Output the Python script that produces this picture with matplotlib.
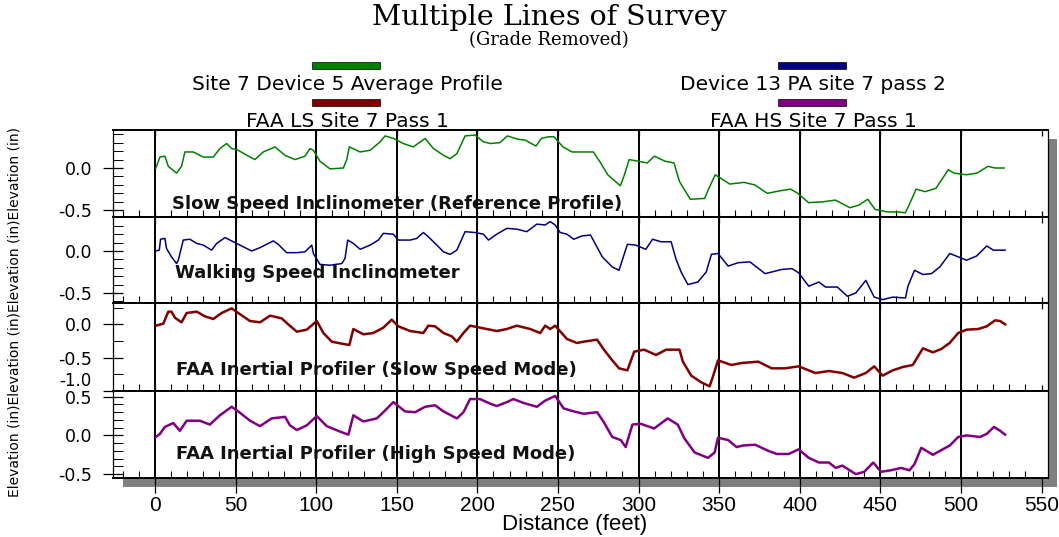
import math
import matplotlib
matplotlib.use('Agg')
import matplotlib.pyplot as plt
import matplotlib.transforms as mtransforms
from matplotlib.patches import Rectangle
from matplotlib.ticker import FixedLocator, MultipleLocator, FuncFormatter

plt.rcParams['axes.unicode_minus'] = False

# ---------------- data ----------------
green_x = [0.6, 3.1, 6.2, 8.3, 13.4, 16.5, 18.6, 23.8, 30, 36.2, 40.3, 44.5, 47.6, 50.7, 59, 62, 67.2, 74.5,
           80.7, 86.9, 93.1, 96.2, 98.3, 102.4, 108.6, 116.9, 119, 120.6, 127.3, 133.5, 139.7, 142.8, 147.9,
           154.1, 160.3, 167.6, 172.8, 179, 183.1, 187.3, 192.4, 198.6, 203.8, 208, 214, 218.6, 225.3, 229.7,
           236.4, 239.7, 244.2, 247.5, 253.1, 258.7, 265.3, 272, 276.5, 280.9, 288.7, 290.9, 294.2, 299.8,
           305.4, 309.8, 316.5, 322, 325.4, 332.1, 341, 343.2, 347.6, 356.6, 365.4, 372.1, 379.9, 387.7,
           394.4, 398.8, 405.5, 414.3, 422.1, 431.1, 436.6, 442.2, 446.7, 454.4, 461.1, 465.5, 467.8, 472.2,
           477.8, 484.5, 492.2, 495.6, 503.4, 510, 516.8, 521.2, 526.8]
green_y = [0.00, 0.13, 0.14, 0.02, -0.06, 0.02, 0.19, 0.19, 0.13, 0.13, 0.23, 0.29, 0.23, 0.22, 0.13, 0.10, 0.19,
           0.25, 0.15, 0.10, 0.14, 0.23, 0.21, 0.08, -0.01, 0.00, 0.10, 0.25, 0.19, 0.21, 0.31, 0.38, 0.35,
           0.29, 0.25, 0.35, 0.23, 0.15, 0.11, 0.17, 0.38, 0.39, 0.31, 0.29, 0.30, 0.38, 0.34, 0.33, 0.26,
           0.35, 0.37, 0.37, 0.25, 0.19, 0.19, 0.19, 0.06, -0.08, -0.21, -0.10, 0.10, 0.08, 0.06, 0.14, 0.08,
           0.06, -0.16, -0.37, -0.36, -0.26, -0.08, -0.19, -0.17, -0.20, -0.30, -0.27, -0.25, -0.30, -0.41,
           -0.40, -0.38, -0.47, -0.44, -0.37, -0.49, -0.52, -0.52, -0.53, -0.44, -0.25, -0.28, -0.24, -0.02,
           -0.06, -0.08, -0.06, 0.02, 0.00, 0.00]

blue_x = [0.6, 2.7, 3.5, 6.2, 7.2, 10.3, 13.4, 14.5, 17.6, 21.7, 25.9, 30, 35.2, 38.3, 43.5, 48.6, 54.8, 60,
          65.2, 73.4, 76.5, 81.7, 88, 93.1, 97.3, 98.3, 102.4, 108.6, 115.9, 117.9, 119.6, 123.1, 127.3,
          133.5, 138.6, 141.7, 147.9, 151, 158.3, 162.4, 166.5, 169.6, 174.9, 179, 183.1, 187.3, 192.4,
          198.6, 203.8, 206.9, 212.1, 218.3, 224.5, 230.7, 236.9, 242.1, 245.2, 248.3, 251.4, 255.6, 259.8,
          265, 270.2, 277.5, 283.7, 287.9, 293.1, 298.3, 304.5, 308.7, 313.9, 320.2, 323.3, 326.4, 330.6,
          336.8, 342, 345.2, 349.3, 355.6, 361.8, 369.1, 378.5, 388.9, 395.2, 399.3, 405.6, 411.9, 416,
          423.3, 429.6, 434.8, 441, 446.2, 451.4, 457.7, 465.6, 467.1, 471.2, 476.4, 481.7, 486.9, 493.1,
          498.3, 503.5, 509.7, 516, 520.1, 527.4]
blue_y = [0.00, 0.01, 0.14, 0.15, 0.03, -0.07, -0.15, -0.11, 0.13, 0.14, 0.09, 0.07, 0.01, 0.09, 0.16, 0.11,
          0.05, 0.00, 0.04, 0.12, 0.08, -0.02, -0.02, -0.01, 0.07, -0.03, -0.16, -0.17, -0.15, -0.09, 0.13,
          0.09, 0.02, 0.07, 0.13, 0.21, 0.20, 0.13, 0.13, 0.15, 0.22, 0.17, 0.07, -0.01, -0.04, 0.01, 0.23,
          0.22, 0.20, 0.13, 0.20, 0.27, 0.26, 0.23, 0.32, 0.31, 0.35, 0.31, 0.22, 0.20, 0.14, 0.18, 0.19,
          -0.07, -0.19, -0.23, 0.08, 0.07, 0.02, 0.14, 0.11, 0.11, -0.10, -0.25, -0.40, -0.37, -0.25, -0.04,
          -0.03, -0.18, -0.14, -0.13, -0.27, -0.22, -0.21, -0.26, -0.42, -0.37, -0.43, -0.43, -0.54, -0.50,
          -0.35, -0.55, -0.58, -0.55, -0.56, -0.42, -0.23, -0.28, -0.27, -0.19, -0.03, -0.07, -0.11, -0.06,
          0.06, 0.01, 0.01]

red_x = [0.6, 5.2, 8.3, 10.3, 12.4, 16.5, 19.7, 25.9, 31, 36.2, 41.4, 47.6, 51.7, 59, 65.2, 71.4, 78.6, 82.7,
         88, 94.2, 100.4, 104.5, 109.7, 115.9, 120.6, 123.1, 129.3, 135.5, 141.7, 146.9, 151, 158.3, 166.5,
         169.6, 173.8, 179, 184.2, 187.3, 191.4, 195.5, 201.7, 212.1, 218.3, 224.5, 232.8, 239, 242.1, 245.2,
         248.3, 255.6, 261.8, 266, 274.3, 278.5, 283.7, 287.9, 293.1, 297.3, 303.5, 310.8, 317.1, 325.4,
         327.5, 332.7, 338.9, 344.1, 346.2, 349.3, 357.6, 363.9, 374.3, 382.6, 391, 399.3, 409.7, 418.1,
         426.4, 433.7, 441, 446.2, 451.4, 457.7, 463.9, 470.1, 476.4, 482.6, 487.8, 493, 498.3, 503.5,
         510.8, 516, 521.2, 524.3, 527.4]
red_y = [-0.02, 0.01, 0.19, 0.19, 0.10, 0.03, 0.17, 0.19, 0.12, 0.08, 0.17, 0.24, 0.17, 0.05, 0.03, 0.13,
         0.09, 0.00, -0.11, -0.08, 0.05, -0.13, -0.26, -0.29, -0.31, -0.07, -0.15, -0.13, -0.05, 0.07, -0.03,
         -0.10, -0.13, -0.02, -0.03, -0.13, -0.18, -0.26, -0.13, -0.02, -0.05, -0.10, -0.07, -0.02, -0.07,
         -0.13, -0.02, -0.07, -0.02, -0.22, -0.28, -0.26, -0.23, -0.38, -0.54, -0.66, -0.69, -0.41, -0.38,
         -0.46, -0.38, -0.38, -0.56, -0.77, -0.87, -0.93, -0.78, -0.54, -0.61, -0.58, -0.56, -0.66, -0.66,
         -0.63, -0.73, -0.70, -0.73, -0.80, -0.73, -0.63, -0.77, -0.69, -0.64, -0.61, -0.36, -0.42, -0.37,
         -0.28, -0.13, -0.08, -0.07, -0.03, 0.06, 0.05, 0.00]

purple_x = [0.6, 3.1, 6.2, 11.4, 15.5, 19.7, 27.9, 34.1, 40.3, 47.6, 51.7, 59, 65.2, 72.4, 80.7, 83.8, 88,
            94.2, 100.4, 106.6, 114.8, 120, 123.1, 129.3, 137.6, 141.7, 147.9, 155.2, 161.4, 167.6, 173.8,
            179, 187.3, 191.4, 195.5, 201.7, 208, 212.1, 218.3, 222.4, 228.6, 236.9, 242.1, 248.3, 253.5,
            259.8, 266, 274.3, 278.5, 283.7, 289, 292, 296.2, 301.4, 309.7, 318.1, 324.3, 328.5, 334.8,
            343.1, 347.2, 349.3, 355.6, 360.8, 365, 372.3, 380.6, 385.8, 393.1, 399.3, 405.6, 411.9, 418.1,
            422.3, 426.4, 434.8, 440, 445.6, 450.4, 456.6, 462.9, 468.1, 471.2, 475.4, 482.6, 487.8, 493.1,
            498.3, 503.5, 511.8, 516, 520.5, 524.3, 527.4]
purple_y = [-0.02, 0.02, 0.11, 0.16, 0.06, 0.19, 0.19, 0.14, 0.26, 0.37, 0.31, 0.19, 0.12, 0.22, 0.24, 0.13,
            0.07, 0.13, 0.25, 0.12, 0.05, 0.01, 0.26, 0.18, 0.22, 0.30, 0.43, 0.31, 0.30, 0.37, 0.39, 0.31,
            0.22, 0.30, 0.47, 0.47, 0.41, 0.38, 0.43, 0.47, 0.42, 0.37, 0.45, 0.51, 0.35, 0.31, 0.28, 0.30,
            0.17, -0.02, -0.06, -0.15, 0.14, 0.15, 0.09, 0.22, 0.14, -0.04, -0.22, -0.29, -0.22, -0.03, -0.06,
            -0.15, -0.13, -0.12, -0.20, -0.24, -0.24, -0.18, -0.29, -0.35, -0.35, -0.42, -0.39, -0.50, -0.47,
            -0.35, -0.47, -0.45, -0.42, -0.45, -0.37, -0.16, -0.25, -0.19, -0.13, -0.02, 0.00, -0.02, 0.02,
            0.11, 0.06, 0.01]

series_x = [green_x, blue_x, red_x, purple_x]
series_y = [green_y, blue_y, red_y, purple_y]
colors = ['#008000', '#000080', '#800000', '#800080']
legend_labels = ['Site 7 Device 5 Average Profile', 'Device 13 PA site 7 pass 2',
                 'FAA LS Site 7 Pass 1', 'FAA HS Site 7 Pass 1']
panel_labels = ['Slow Speed Inclinometer (Reference Profile)', 'Walking Speed Inclinometer',
                'FAA Inertial Profiler (Slow Speed Mode)', 'FAA Inertial Profiler (High Speed Mode)']
y_major = [[-0.5, 0.0], [-0.5, 0.0], [-1.0, -0.5, 0.0], [-0.5, 0.0, 0.5]]
x_ticks = [0, 50, 100, 150, 200, 250, 300, 350, 400, 450, 500, 550]
grid_x = [0, 50, 100, 150, 200, 250, 300, 350, 400, 450, 500]

# ---------------- layout ----------------
W, H = 1059, 537
fig = plt.figure(figsize=(W / 100, H / 100), dpi=100)
fig.patch.set_facecolor('white')

def fx(px):
    return px / W

def fy(py):
    return 1 - py / H

# drop shadow
fig.patches.append(Rectangle((fx(123), fy(487)), (1057 - 123) / W, (487 - 139) / H,
                             transform=fig.transFigure, facecolor='#808080', edgecolor='none', zorder=-1))

panel_px = [(130, 217), (217, 303), (303, 391), (391, 478)]
ylims = [(-0.58, 0.45), (-0.62, 0.405), (-1.0, 0.32), (-0.55, 0.574)]
minor_step = [0.1, 0.1, 0.25, 0.1]
line_w = [1.1, 1.1, 1.8, 1.8]
label_pos = [(0.063, 0.089), (0.066, 0.294), (0.067, 0.184), (0.067, 0.218)]

left_px, right_px = 113, 1048
for i in range(4):
    top, bot = panel_px[i]
    ax = fig.add_axes([fx(left_px), fy(bot), (right_px - left_px) / W, (bot - top) / H])
    ax.set_facecolor('white')
    ax.plot(series_x[i], series_y[i], color=colors[i], lw=line_w[i], zorder=3)
    for g in grid_x:
        ax.axvline(g, color='black', lw=1.4, zorder=2)
    ax.set_xlim(-26, 554)
    ax.set_ylim(*ylims[i])

    lo, hi = ylims[i]
    st = minor_step[i]
    k0 = math.ceil(lo / st - 1e-9)
    k1 = math.floor(hi / st + 1e-9)
    ax.yaxis.set_major_locator(FixedLocator(y_major[i]))
    ax.yaxis.set_minor_locator(FixedLocator([round(k * st, 3) for k in range(k0, k1 + 1)]))
    hide = (i == 2)
    ax.yaxis.set_major_formatter(FuncFormatter(
        lambda v, p, hide=hide: '' if (hide and abs(v + 1.0) < 1e-6) else f'{v:.1f}'))
    ax.tick_params(axis='y', which='major', direction='inout', length=15, width=0.9, pad=7.5,
                   labelsize=12.5, colors='black')
    ax.tick_params(axis='y', which='minor', direction='in', length=7.2, width=0.7, colors='black')
    for lab in ax.get_yticklabels():
        lab.set_family('DejaVu Sans')

    ax.xaxis.set_major_locator(FixedLocator(x_ticks))
    ax.xaxis.set_minor_locator(MultipleLocator(10))
    ax.tick_params(axis='x', which='minor', direction='in', length=5, width=0.8, bottom=True, top=False)
    if i < 3:
        ax.tick_params(axis='x', which='major', direction='in', length=4.5, width=0.9,
                       bottom=True, top=True, labelbottom=False)
    else:
        ax.tick_params(axis='x', which='major', direction='out', length=10.8, width=0.9,
                       bottom=True, top=False, labelbottom=True, pad=2.5, labelsize=15)
        for lab in ax.get_xticklabels():
            lab.set_family('Liberation Sans')

    for s in ['top', 'bottom']:
        ax.spines[s].set_linewidth(1.4)
    for s in ['left', 'right']:
        ax.spines[s].set_linewidth(0.9)

    ax.text(label_pos[i][0], label_pos[i][1], panel_labels[i], transform=ax.transAxes,
            fontsize=13, fontweight='bold', family='DejaVu Sans', va='baseline', ha='left',
            color='#111111', zorder=5)

    if hide:
        tr = mtransforms.blended_transform_factory(ax.transAxes, ax.transData)
        tr = mtransforms.offset_copy(tr, fig=fig, y=3.5, units='points')
        ax.text(-21 / (right_px - left_px), -1.0, '-1.0', transform=tr, ha='right', va='baseline',
                fontsize=12, family='DejaVu Sans', clip_on=False)

# titles
fig.text(fx(549), fy(25), 'Multiple Lines of Survey', ha='center', va='baseline',
         family='DejaVu Serif', fontsize=20.5)
fig.text(fx(549), fy(45), '(Grade Removed)', ha='center', va='baseline',
         family='DejaVu Serif', fontsize=13)

# legend
leg_cx = [346, 812, 346, 812]
leg_bar_y = [62, 62, 99, 99]
leg_txt_y = [90.5, 90.5, 127, 127]
for j in range(4):
    fig.patches.append(Rectangle((fx(leg_cx[j] - 34), fy(leg_bar_y[j] + 7)), 68 / W, 7 / H,
                                 transform=fig.transFigure, facecolor=colors[j],
                                 edgecolor='black', lw=0.5))
    fig.text(fx(leg_cx[j] + 1), fy(leg_txt_y[j]), legend_labels[j], ha='center', va='baseline',
             family='DejaVu Sans', fontsize=14.5)

# axis labels
fig.text(fx(575), fy(530), 'Distance (feet)', ha='center', va='baseline',
         family='Liberation Sans', fontsize=16)
fig.text(fx(15), fy(312), 'Elevation (in)' * 4, rotation=90, ha='center', va='center',
         family='DejaVu Sans', fontsize=10)

fig.savefig('out.png', dpi=100)
